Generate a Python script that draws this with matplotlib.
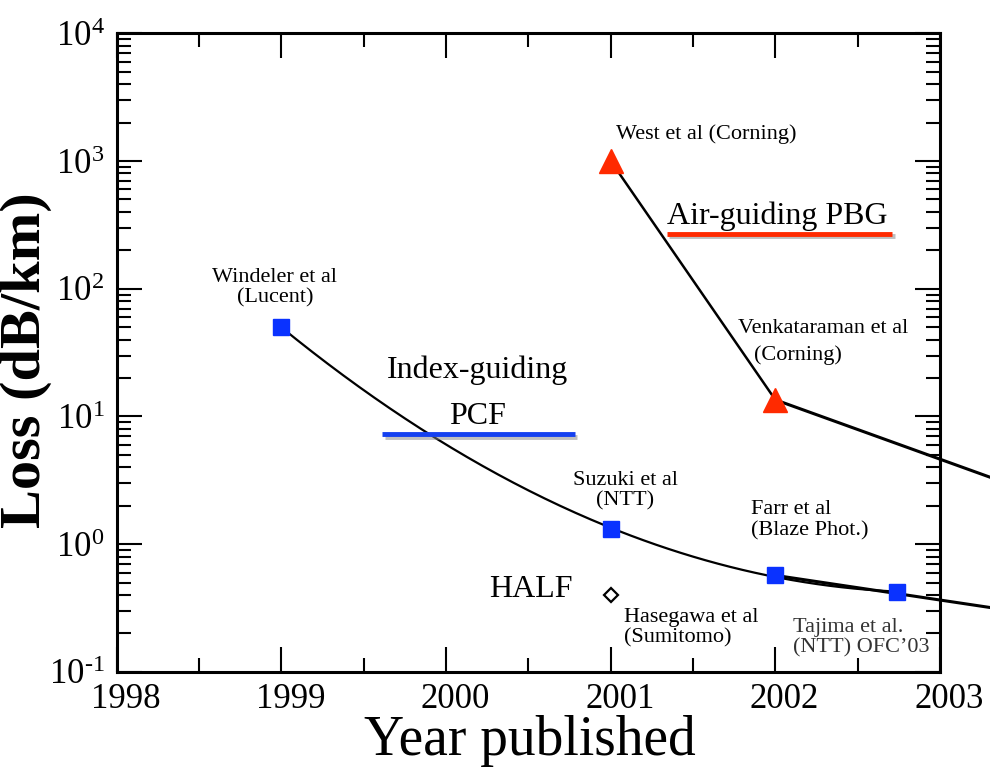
import matplotlib
matplotlib.use("Agg")
import matplotlib.pyplot as plt
import matplotlib.patheffects as pe
import matplotlib.transforms as mtransforms
from matplotlib.ticker import FixedLocator, LogLocator, FuncFormatter, NullFormatter
import numpy as np

plt.rcParams["font.family"] = ["Liberation Serif", "DejaVu Serif"]
plt.rcParams["mathtext.fontset"] = "custom"
plt.rcParams["mathtext.rm"] = "Liberation Serif"
plt.rcParams["mathtext.it"] = "Liberation Serif:italic"

# index-guiding PCF (blue squares)
pcf_year = [1999.0, 2001.0, 2002.0, 2002.74]
pcf_loss = [50.0, 1.32, 0.57, 0.42]

# air-guiding PBG (red triangles)
pbg_year = [2001.0, 2002.0]
pbg_loss = [1000.0, 13.5]

# HALF (open diamond)
half_year = [2001.0]
half_loss = [0.40]

# pointer lines leaving the plot on the right
ptr_end_year = 2003.30
ptr_pbg_loss = [13.5, 3.36]
ptr_pcf_loss = [0.57, 0.32]

fig = plt.figure(figsize=(9.9, 7.75), dpi=100)
ax = fig.add_axes([0.118, 0.133, 0.8315, 0.824])
ax.set_yscale("log")
ax.set_xlim(1998, 2003)
ax.set_ylim(0.1, 1e4)

# smooth guide curve through the PCF points (fit in log space)
coef = np.polyfit(pcf_year, np.log10(pcf_loss), 2)
xs = np.linspace(pcf_year[0], pcf_year[-1], 200)
ax.plot(xs, 10 ** np.polyval(coef, xs), color="black", lw=1.6, zorder=2)

ax.plot(pbg_year, pbg_loss, color="black", lw=1.8, zorder=2)
ax.plot([pbg_year[1], ptr_end_year], ptr_pbg_loss, color="black", lw=2.2,
        clip_on=False, zorder=2)
ax.plot([pcf_year[2], ptr_end_year], ptr_pcf_loss, color="black", lw=2.2,
        clip_on=False, zorder=2)

ax.plot(pcf_year, pcf_loss, ls="none", marker="s", ms=11, mfc="#0a32ff",
        mec="#0a32ff", zorder=4)
ax.plot(pbg_year, pbg_loss, ls="none", marker="^", ms=17, mfc="#ff2a00",
        mec="#ff2a00", zorder=4)
ax.plot(half_year, half_loss, ls="none", marker="D", ms=7, mfc="white",
        mec="black", mew=1.6, zorder=4)

shadow = [pe.SimpleLineShadow(offset=(2, -2), shadow_color="gray", alpha=0.5),
          pe.Normal()]
ax.plot([1999.61, 2000.78], [7.3, 7.3], color="#1440f0", lw=3.5,
        solid_capstyle="butt", path_effects=shadow, zorder=3)
ax.plot([2001.34, 2002.71], [270, 270], color="#ff2a00", lw=3.5,
        solid_capstyle="butt", path_effects=shadow, zorder=3)

small = 16
big = 23
ax.text(1998.96, 78, "Windeler et al\n(Lucent)", ha="center", va="baseline",
        multialignment="center", fontsize=small, linespacing=1.1)
ax.text(2000.19, 20, "Index-guiding", ha="center", va="baseline", fontsize=big)
ax.text(2000.19, 8.7, "PCF", ha="center", va="baseline", fontsize=big)
ax.text(2001.09, 2.0, "Suzuki et al\n(NTT)", ha="center", va="baseline",
        multialignment="center", fontsize=small, linespacing=1.1)
ax.text(2001.85, 1.18, "Farr et al\n(Blaze Phot.)", ha="left", va="baseline",
        multialignment="left", fontsize=small, linespacing=1.1)
ax.text(2000.26, 0.386, "HALF", ha="left", va="baseline", fontsize=big)
ax.text(2001.08, 0.169, "Hasegawa et al\n(Sumitomo)", ha="left", va="baseline",
        multialignment="left", fontsize=small, linespacing=1.1)
ax.text(2002.11, 0.141, "Tajima et al.\n(NTT) OFC\u201903", ha="left",
        va="baseline", multialignment="left", fontsize=small, linespacing=1.1,
        color="#333333")
ax.text(2001.03, 1480, "West et al (Corning)", ha="left", va="baseline",
        fontsize=small)
ax.text(2001.34, 320, "Air-guiding PBG", ha="left", va="baseline", fontsize=big)
ax.text(2001.77, 45, "Venkataraman et al", ha="left", va="baseline",
        fontsize=small)
ax.text(2001.87, 27.6, "(Corning)", ha="left", va="baseline", fontsize=small)


def decade(v, pos):
    e = int(round(np.log10(v)))
    s = str(e).replace("-", "\u2010")
    return r"$10^{%s}$" % s


ax.xaxis.set_major_locator(FixedLocator([1998, 1999, 2000, 2001, 2002, 2003]))
ax.xaxis.set_minor_locator(FixedLocator([1998.5, 1999.5, 2000.5, 2001.5, 2002.5]))
ax.xaxis.set_major_formatter(FuncFormatter(lambda v, p: f"{int(round(v))}"))
ax.yaxis.set_major_locator(LogLocator(base=10, numticks=10))
ax.yaxis.set_minor_locator(LogLocator(base=10, subs=np.arange(2, 10), numticks=10))
ax.yaxis.set_minor_formatter(NullFormatter())
ax.yaxis.set_major_formatter(FuncFormatter(decade))

ax.tick_params(which="both", direction="in", top=True, right=True, width=1.5)
ax.tick_params(which="major", length=18, labelsize=25)
ax.tick_params(which="minor", length=10)
ax.tick_params(axis="x", which="major", pad=8)
ax.tick_params(axis="y", which="major", pad=9)
for s in ax.spines.values():
    s.set_linewidth(2.2)

# year labels sit a little right of their ticks in the original
shift = mtransforms.ScaledTranslation(9 / 100, 0, fig.dpi_scale_trans)
for lab in ax.get_xticklabels():
    lab.set_transform(lab.get_transform() + shift)

ax.set_xlabel("Year published", fontsize=40)
ax.xaxis.set_label_coords(0.502, -0.068)
ax.set_ylabel("Loss (dB/km)", fontsize=42, fontweight="bold")
ax.yaxis.set_label_coords(-0.079, 0.488)

fig.savefig("out.png", dpi=100)
